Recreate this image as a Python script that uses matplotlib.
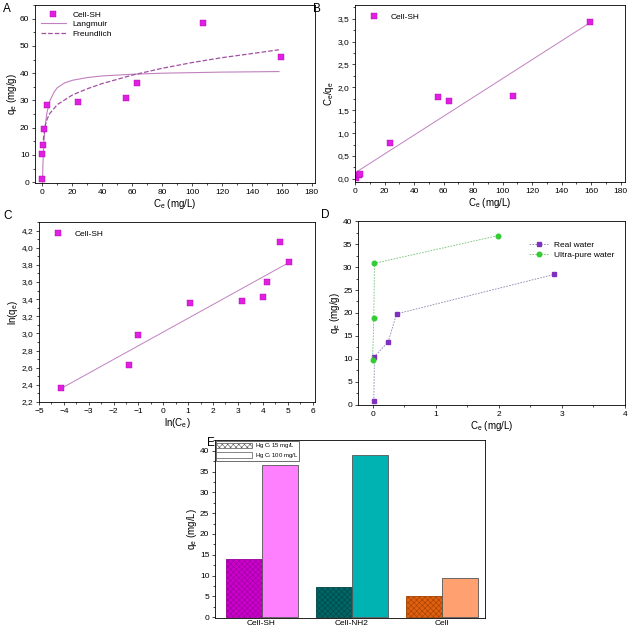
import numpy as np
import matplotlib
matplotlib.use("Agg")
import matplotlib.pyplot as plt
from matplotlib.ticker import FuncFormatter, MultipleLocator, AutoMinorLocator
from matplotlib.patches import Patch

plt.rcParams['font.family'] = ['Liberation Sans', 'DejaVu Sans']
plt.rcParams['mathtext.default'] = 'regular'
plt.rcParams['axes.linewidth'] = 0.6
plt.rcParams['hatch.linewidth'] = 0.4

# A: isotherm data + fitted curves
ce_sh = [0.0, 0.0, 0.5, 0.7, 3.0, 23.5, 56.0, 63.0, 107.0, 159.5]
qe_sh = [1.0, 10.5, 13.8, 19.7, 28.3, 29.5, 30.8, 36.5, 58.5, 46.0]
lang_c = [0.0, 0.3, 0.6, 1.0, 2.0, 3.0, 5.0, 8.0, 10.0, 15.0, 20.0, 30.0, 40.0, 60.0, 80.0, 100.0, 120.0, 140.0, 158.0]
lang_q = [0.0, 6.0, 10.5, 15.0, 21.5, 25.5, 30.0, 33.3, 34.7, 36.5, 37.4, 38.4, 39.0, 39.6, 40.0, 40.2, 40.4, 40.5, 40.6]
freu_c = [0.3, 0.6, 1.0, 2.0, 3.0, 5.0, 10.0, 20.0, 30.0, 40.0, 60.0, 80.0, 100.0, 120.0, 140.0, 158.0]
freu_q = [13.0, 15.5, 17.8, 21.0, 23.0, 25.3, 28.5, 32.0, 34.3, 36.2, 39.3, 41.8, 43.9, 45.7, 47.2, 48.6]

# B: linearised Langmuir
ce_b = [0.5, 2.8, 3.5, 23.5, 56.0, 63.5, 107.0, 159.5]
ratio_b = [0.02, 0.09, 0.10, 0.78, 1.79, 1.71, 1.81, 3.43]
fit_b_x = [0.0, 159.5]
fit_b_y = [0.13, 3.42]

# C: linearised Freundlich
lnce = [-4.1, -1.4, -1.0, 1.07, 3.15, 4.02, 4.15, 4.68, 5.07]
lnqe = [2.36, 2.63, 2.98, 3.35, 3.38, 3.43, 3.60, 4.07, 3.83]
fit_c_x = [-4.1, 5.07]
fit_c_y = [2.36, 3.83]

# D: real vs ultra-pure water
real_c = [0.02, 0.03, 0.25, 0.38, 2.88]
real_q = [0.8, 10.5, 13.8, 19.8, 28.4]
pure_c = [0.0, 0.02, 0.03, 1.98]
pure_q = [9.7, 18.9, 30.8, 36.8]

# E: bars
materials = ['Cell-SH', 'Cell-NH2', 'Cell']
q_15 = [13.9, 7.3, 5.0]
q_100 = [36.7, 39.0, 9.4]
col_15 = ['#CC00CC', '#006666', '#E06010']
col_100 = ['#FF80FF', '#00B3B3', '#FFA070']
hatch_col = ['#990099', '#004444', '#A04000']

comma1 = FuncFormatter(lambda v, p: ('%.1f' % v).replace('.', ','))

mag = '#E020E0'
line_col = '#C080C0'
TICK = 6
LAB = 7


def style(ax):
    ax.tick_params(which='both', direction='out', labelsize=TICK, width=0.5, pad=1.5)
    ax.tick_params(which='major', length=2.5)
    ax.tick_params(which='minor', length=1.5)
    ax.xaxis.set_minor_locator(AutoMinorLocator(2))
    ax.yaxis.set_minor_locator(AutoMinorLocator(2))


fig = plt.figure(figsize=(6.29, 6.32), dpi=100)

# ---- A
axA = fig.add_axes([0.0556, 0.7104, 0.445, 0.2816])
axA.plot(lang_c, lang_q, '-', color=line_col, lw=0.8, label='Langmuir')
axA.plot(freu_c, freu_q, '--', color='#A050A0', lw=0.9, label='Freundlich')
axA.plot(ce_sh, qe_sh, 's', color=mag, ms=4, mec='#B000B0', mew=0.3, label='Cell-SH')
axA.set_xlim(-5, 182)
axA.set_ylim(-0.3, 65)
axA.xaxis.set_major_locator(MultipleLocator(20))
axA.yaxis.set_major_locator(MultipleLocator(10))
axA.set_xlabel('C$_e$ (mg/L)', fontsize=LAB, labelpad=1)
axA.set_ylabel('q$_e$ (mg/g)', fontsize=LAB, labelpad=1)
style(axA)
h, l = axA.get_legend_handles_labels()
axA.legend([h[2], h[0], h[1]], [l[2], l[0], l[1]], loc='upper left', frameon=False,
           fontsize=6, handlelength=3, borderaxespad=0.3, labelspacing=0.2)

# ---- B
axB = fig.add_axes([0.5644, 0.712, 0.4293, 0.280])
axB.plot(fit_b_x, fit_b_y, '-', color=line_col, lw=0.7)
axB.plot(ce_b, ratio_b, 's', color=mag, ms=4, mec='#B000B0', mew=0.3, label='Cell-SH')
axB.set_xlim(0, 183)
axB.set_ylim(-0.07, 3.8)
axB.xaxis.set_major_locator(MultipleLocator(20))
axB.yaxis.set_major_locator(MultipleLocator(0.5))
axB.yaxis.set_major_formatter(comma1)
axB.set_xlabel('C$_e$ (mg/L)', fontsize=LAB, labelpad=1)
axB.set_ylabel('C$_e$/q$_e$', fontsize=LAB, labelpad=1)
style(axB)
axB.legend(loc='upper left', frameon=False, fontsize=6, handlelength=2.5, borderaxespad=0.6)

# ---- C
axC = fig.add_axes([0.062, 0.3639, 0.4388, 0.2848])
axC.plot(fit_c_x, fit_c_y, '-', color=line_col, lw=0.7)
axC.plot(lnce, lnqe, 's', color=mag, ms=4, mec='#B000B0', mew=0.3, label='Cell-SH')
axC.set_xlim(-5, 6.1)
axC.set_ylim(2.2, 4.3)
axC.xaxis.set_major_locator(MultipleLocator(1))
axC.yaxis.set_major_locator(MultipleLocator(0.2))
axC.yaxis.set_major_formatter(comma1)
axC.set_xlabel('ln(C$_e$)', fontsize=LAB, labelpad=1)
axC.set_ylabel('ln(q$_e$)', fontsize=LAB, labelpad=1)
style(axC)
axC.legend(loc='upper left', frameon=False, fontsize=6, handlelength=2.5, borderaxespad=0.6)

# ---- D
axD = fig.add_axes([0.5692, 0.3592, 0.4245, 0.2911])
axD.plot(real_c, real_q, '--', color='#9080B0', lw=0.6, dashes=(2, 1.5),
         marker='s', ms=3.3, mfc='#7F30C0', mec='#7F30C0', label='Real water')
axD.plot(pure_c, pure_q, '--', color='#70C070', lw=0.6, dashes=(2, 1.5),
         marker='o', ms=3.3, mfc='#33CC33', mec='#33CC33', label='Ultra-pure water')
axD.set_xlim(-0.23, 4.0)
axD.set_ylim(0, 40)
axD.xaxis.set_major_locator(MultipleLocator(1))
axD.yaxis.set_major_locator(MultipleLocator(5))
axD.set_xlabel('C$_e$ (mg/L)', fontsize=LAB, labelpad=1)
axD.set_ylabel('q$_e$ (mg/g)', fontsize=LAB, labelpad=1)
style(axD)
axD.legend(loc='upper right', bbox_to_anchor=(0.99, 0.93), frameon=False, fontsize=6,
           handlelength=2.2, labelspacing=0.2)

# ---- E
axE = fig.add_axes([0.3418, 0.0222, 0.4293, 0.2816])
x = np.arange(len(materials))
w = 0.4
for i in range(len(materials)):
    axE.bar(x[i] - w / 2, q_15[i], w, color=col_15[i], edgecolor=hatch_col[i],
            hatch='xxxxxx', linewidth=0.6)
    axE.bar(x[i] + w / 2, q_100[i], w, color=col_100[i], edgecolor='#555555', linewidth=0.6)
axE.set_xlim(-0.517, 2.483)
axE.set_ylim(-0.2, 42.6)
axE.set_xticks(x)
axE.set_xticklabels(materials)
axE.yaxis.set_major_locator(MultipleLocator(5))
axE.set_ylabel('q$_e$ (mg/L)', fontsize=LAB, labelpad=1)
style(axE)
axE.xaxis.set_minor_locator(plt.NullLocator())
axE.tick_params(axis='x', length=0)
leg_handles = [Patch(facecolor='white', edgecolor='#555555', hatch='xxxxxx', lw=0.5),
               Patch(facecolor='white', edgecolor='#555555', lw=0.5)]
legE = axE.legend(leg_handles, ['Hg C$_i$ 15 mg/L', 'Hg C$_i$ 100 mg/L'], loc='upper left',
                  fontsize=4.3, handlelength=6, handleheight=1.1, fancybox=False,
                  borderaxespad=0.1, labelspacing=0.15, borderpad=0.15, handletextpad=0.4)
legE.get_frame().set_linewidth(0.5)
legE.get_frame().set_edgecolor('black')

# panel letters
for txt, px, py in [('A', 3, 12), ('B', 313, 12), ('C', 3, 219), ('D', 321, 218), ('E', 207, 446)]:
    fig.text(px / 629, 1 - py / 632, txt, fontsize=8.5)

fig.savefig('out.png', dpi=100)
